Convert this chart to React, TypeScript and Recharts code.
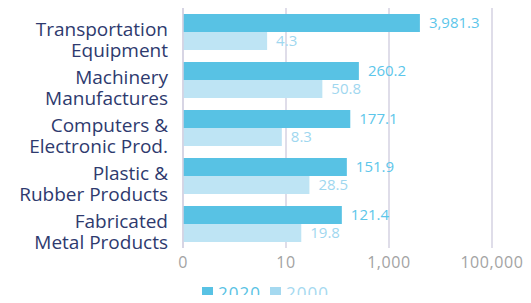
import { BarChart, Bar, XAxis, YAxis, CartesianGrid, Legend, LabelList } from 'recharts';

const NAVY = '#2e3a6e';
const BLUE_2020 = '#58c2e4';
const BLUE_2000 = '#bee4f4';
const LABEL_2020 = '#5cc6ea';
const LABEL_2000 = '#9fd7ef';
const GRID = '#d4d2e2';
const TICK = '#a3a3a3';
const FONT = '"Open Sans", sans-serif';

const categories = [
  ['Transportation', 'Equipment'],
  ['Machinery', 'Manufactures'],
  ['Computers &', 'Electronic Prod.'],
  ['Plastic &', 'Rubber Products'],
  ['Fabricated', 'Metal Products'],
];
const values2020 = [3981.3, 260.2, 177.1, 151.9, 121.4];
const values2000 = [4.3, 50.8, 8.3, 28.5, 19.8];
const xTicks = [0.1, 10, 1000, 100000];

const data = categories.map((c, i) => ({
  name: c.join('\n'),
  y2020: values2020[i],
  y2000: values2000[i],
}));

const fmtValue = (v: number) =>
  v.toLocaleString('en-US', { minimumFractionDigits: 1, maximumFractionDigits: 1 });
const fmtTick = (v: number) => (v < 1 ? '0' : v.toLocaleString('en-US'));

function CategoryTick({ x, y, payload }: any) {
  const lines = String(payload.value).split('\n');
  return (
    <text x={x} y={y} textAnchor="end" fill={NAVY} fontSize={19} fontFamily={FONT}>
      <tspan x={x} dy={4}>{lines[0]}</tspan>
      <tspan x={x} dy={21}>{lines[1]}</tspan>
    </text>
  );
}

function ChartLegend() {
  const items = [
    { label: '2020', color: BLUE_2020 },
    { label: '2000', color: '#a5d9f0' },
  ];
  return (
    <div
      style={{
        display: 'flex',
        justifyContent: 'center',
        gap: 9,
        paddingTop: 8,
        height: 22,
        fontFamily: FONT,
        lineHeight: '17px',
      }}
    >
      {items.map((it) => (
        <span
          key={it.label}
          style={{ display: 'flex', alignItems: 'center', color: it.color, fontSize: 17, letterSpacing: 1 }}
        >
          <span style={{ width: 11, height: 11, background: it.color, marginRight: 5, display: 'inline-block' }} />
          {it.label}
        </span>
      ))}
    </div>
  );
}

export default function App() {
  return (
    <div style={{ margin: -8, width: 531, height: 303, background: '#fff' }}>
      <BarChart
        width={531}
        height={303}
        data={data}
        layout="vertical"
        margin={{ top: 8, right: 39, bottom: 0, left: 0 }}
        barCategoryGap="12.5%"
        barGap={0}
      >
        <CartesianGrid horizontal={false} stroke={GRID} strokeWidth={1.5} />
        <XAxis
          type="number"
          scale="log"
          domain={[0.1, 100000]}
          ticks={xTicks}
          tickFormatter={fmtTick}
          allowDataOverflow
          axisLine={false}
          tickLine={false}
          tickSize={0}
          tickMargin={9}
          height={25}
          tick={{ fill: TICK, fontSize: 16, fontFamily: FONT, letterSpacing: 0.6 }}
        />
        <YAxis
          type="category"
          dataKey="name"
          width={183}
          axisLine={{ stroke: GRID, strokeWidth: 1.5 }}
          tickLine={false}
          tickSize={0}
          tickMargin={15}
          tick={<CategoryTick />}
        />
        <Legend verticalAlign="bottom" height={30} content={<ChartLegend />} wrapperStyle={{ left: 0, width: 531 }} />
        <Bar dataKey="y2020" name="2020" fill={BLUE_2020} isAnimationActive={false}>
          <LabelList
            dataKey="y2020"
            position="right"
            offset={9}
            formatter={fmtValue}
            fill={LABEL_2020}
            fontSize={15}
            fontFamily={FONT}
          />
        </Bar>
        <Bar dataKey="y2000" name="2000" fill={BLUE_2000} isAnimationActive={false}>
          <LabelList
            dataKey="y2000"
            position="right"
            offset={9}
            formatter={fmtValue}
            fill={LABEL_2000}
            fontSize={15}
            fontFamily={FONT}
          />
        </Bar>
      </BarChart>
    </div>
  );
}
